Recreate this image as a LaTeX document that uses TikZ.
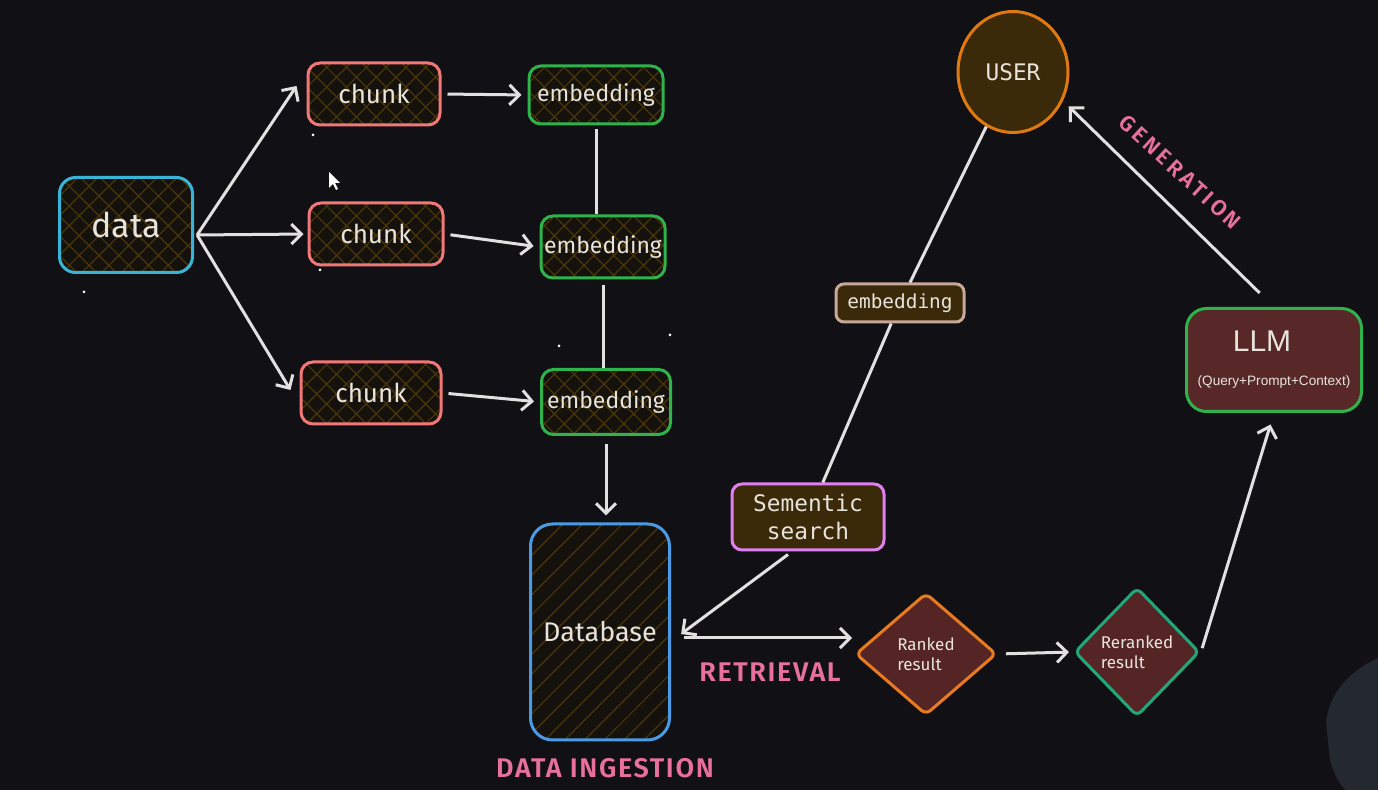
\documentclass[tikz,border=0pt]{standalone}
\usepackage{fontspec}
\setmainfont{Fira Sans}
\newfontfamily\monof{DejaVu Sans Mono}
\newfontfamily\arialf{Liberation Sans}
\newfontfamily\stagef[LetterSpace=6]{Fira Sans SemiBold}
\newfontfamily\genf[LetterSpace=16]{Fira Sans SemiBold}
\usetikzlibrary{arrows.meta,patterns.meta,shapes.geometric,calc}
\definecolor{bgc}{HTML}{111014}
\definecolor{boxbg}{HTML}{15120E}
\definecolor{hatchc}{HTML}{4A3608}
\definecolor{txtc}{HTML}{E8E4DC}
\definecolor{linec}{HTML}{E2E0E0}
\definecolor{cyanb}{HTML}{3AB4D6}
\definecolor{chunkb}{HTML}{F27878}
\definecolor{embb}{HTML}{2FB34C}
\definecolor{dbb}{HTML}{4A9AE6}
\definecolor{semb}{HTML}{E080F0}
\definecolor{brownf}{HTML}{3B2A0A}
\definecolor{tanb}{HTML}{C8A898}
\definecolor{userb}{HTML}{E07A10}
\definecolor{llmf}{HTML}{582828}
\definecolor{rankb}{HTML}{E87A20}
\definecolor{rerankb}{HTML}{20A878}
\definecolor{diaf}{HTML}{552525}
\definecolor{pinkc}{HTML}{E8709C}
\definecolor{blobc}{HTML}{24282F}
\begin{document}
\begin{tikzpicture}[x=0.5pt,y=-0.5pt,
  hatchbox/.style={draw, line width=1.5pt, rounded corners=6pt, text=txtc, inner sep=0pt,
    preaction={fill=boxbg},
    pattern={Hatch[distance=7pt,angle=45,line width=0.6pt]}, pattern color=hatchc,
    font=\fontsize{13}{15}\selectfont},
  arr/.style={draw=linec, line width=1.5pt, -{Straight Barb[length=5pt,width=10pt,line width=1.5pt]}},
  plain/.style={draw=linec, line width=1.5pt},
  diabox/.style={diamond, draw, line width=1.5pt, rounded corners=3pt, fill=diaf, text=txtc,
    inner sep=0pt, align=left, font=\fontsize{8.5}{10}\selectfont},
  monobox/.style={draw, line width=1.5pt, rounded corners=5pt, fill=brownf, text=txtc, inner sep=0pt},
  stage/.style={text=pinkc, font=\stagef\fontsize{13.5}{16}\selectfont},
  speck/.style={fill=white}
]
\fill[bgc] (0,0) rectangle (1378,790);
\useasboundingbox (0,0) rectangle (1378,790);

% webcam blob bottom right
\fill[blobc] (1378,658) .. controls (1352,670) and (1330,690) .. (1326,722) -- (1330,760) .. controls (1334,775) and (1340,785) .. (1346,790) -- (1378,790) -- cycle;

% specks
\foreach \p in {(313,135),(84,292),(320,270),(545,112),(566,230),(559,346),(670,335)}
  \fill[speck] \p circle (1.5);
% mouse cursor
\fill[white] (329,172) -- (329,188) -- (333,184) -- (336,190) -- (338,189) -- (335,183) -- (340,183) -- cycle;

% nodes
\node[hatchbox, draw=cyanb, minimum width=66.5pt, minimum height=47.5pt, rounded corners=8pt,
  font=\fontsize{17}{20}\selectfont] (data) at (126,225) {data};
\node[hatchbox, draw=chunkb, minimum width=66pt, minimum height=31pt] (c1) at (374,94) {chunk};
\node[hatchbox, draw=chunkb, minimum width=67pt, minimum height=31pt] (c2) at (376,234) {chunk};
\node[hatchbox, draw=chunkb, minimum width=70pt, minimum height=31pt] (c3) at (371,393) {chunk};
\node[hatchbox, draw=embb, minimum width=67pt, minimum height=29pt, font=\fontsize{11.5}{14}\selectfont] (e1) at (596,95) {embedding};
\node[hatchbox, draw=embb, minimum width=62pt, minimum height=31pt, font=\fontsize{11.5}{14}\selectfont] (e2) at (603,247) {embedding};
\node[hatchbox, draw=embb, minimum width=64.5pt, minimum height=32.5pt, font=\fontsize{11.5}{14}\selectfont] (e3) at (606,402) {embedding};
\node[hatchbox, draw=dbb, minimum width=69.5pt, minimum height=108pt, rounded corners=11pt,
  pattern={Lines[distance=7pt,angle=45,line width=0.6pt]}, font=\fontsize{13.5}{16}\selectfont] (db) at (600,632) {Database};

\node[monobox, draw=semb, minimum width=76pt, minimum height=33pt, align=center,
  font=\monof\fontsize{11.4}{14}\selectfont] (sem) at (808,517) {Sementic\\ search};
\node[monobox, draw=tanb, minimum width=64pt, minimum height=19pt, rounded corners=4pt,
  font=\monof\fontsize{9.7}{12}\selectfont] (emb) at (900,303) {embedding};
\node[ellipse, draw=userb, line width=1.5pt, fill=brownf, text=txtc, minimum width=55pt, minimum height=60.5pt,
  inner sep=0pt, font=\monof\fontsize{11.4}{14}\selectfont] (user) at (1013,72) {USER};
\node[draw=embb, line width=1.5pt, rounded corners=10pt, fill=llmf, text=txtc, minimum width=87.5pt,
  minimum height=51.5pt, inner sep=0pt, align=center, font=\arialf] (llm) at (1274,360)
  {\hspace*{-12pt}\fontsize{15}{16}\selectfont LLM\\[5pt]\fontsize{6.8}{7}\selectfont (Query+Prompt+Context)};

\node[diabox, draw=rankb, minimum width=70.5pt, minimum height=61pt] (rank) at (926,654) {Ranked\\ result};
\node[diabox, draw=rerankb, minimum width=62.5pt, minimum height=64.5pt] (rerank) at (1137,652) {Reranked\\result};

% stage labels
\node[stage] (lret) at (770,672) {RETRIEVAL};
\node[stage] (ling) at (605,768) {DATA INGESTION};
\node[stage, rotate=-42.7, font=\genf\fontsize{11}{13}\selectfont] (lgen) at (1180,172) {GENERATION};

% connectors
\coordinate (dsrc) at ($(data.east)+(4,10)$);
\coordinate (c1in) at ($(c1.west)+(-10,-8)$);
\coordinate (c3in) at ($(c3.west)+(-9,-3)$);
\draw[arr] (dsrc) -- (c1in);
\draw[arr, shorten >=2pt] (dsrc) -- (c2.west);
\draw[arr] (dsrc) -- (c3in);
\draw[arr, shorten <=3pt, shorten >=3pt] (c1.east) -- (e1.west);
\draw[arr, shorten <=3pt, shorten >=3pt] (c2.east) -- (e2.west);
\draw[arr, shorten <=3pt, shorten >=3pt] (c3.east) -- (e3.west);
\draw[plain, shorten <=2pt] (e1.south) -- (e1.south |- e2.north);
\draw[plain, shorten <=3pt] (e2.south) -- (e2.south |- e3.north);
\draw[arr, shorten <=4pt, shorten >=4pt] (e3.south) -- (e3.south |- db.north);
\coordinate (semout) at ($(sem.south)+(-20,3)$);
\coordinate (dbin) at ($(db.east)+(11,2)$);
\draw[arr] (semout) -- (dbin);
\coordinate (dbout) at ($(db.east)+(0,6)$);
\draw[arr, shorten <=7pt, shorten >=1pt] (dbout) -- (dbout -| rank.west);
\draw[arr, shorten <=4pt, shorten >=2pt] (rank.east) -- (rerank.west);
\draw[arr, shorten <=2pt, shorten >=6pt] (rerank.east) -- (llm.south);
\draw[arr, shorten <=10pt, shorten >=4pt] (llm.north) -- (user.-30);
\draw[plain] (user) -- (emb);
\draw[plain] (emb) -- (sem);
\end{tikzpicture}
\end{document}
